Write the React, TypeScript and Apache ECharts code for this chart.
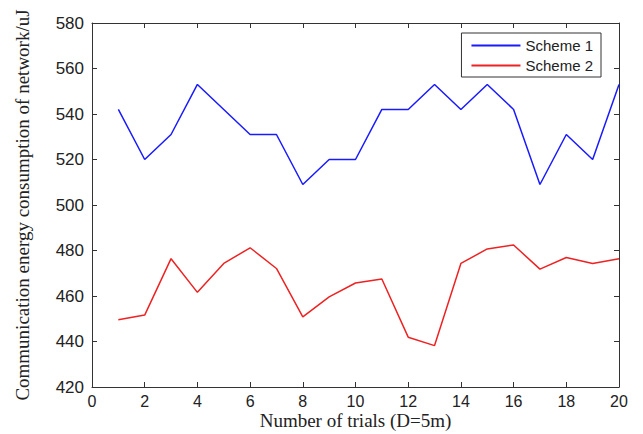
import React, { useEffect, useRef } from "react";
import * as echarts from "echarts";

const trials = [1, 2, 3, 4, 5, 6, 7, 8, 9, 10, 11, 12, 13, 14, 15, 16, 17, 18, 19, 20];
const scheme1 = [542, 520, 531, 553, 542, 531, 531, 509, 520, 520, 542, 542, 553, 542, 553, 542, 509, 531, 520, 553];
const scheme2 = [449.6, 451.6, 476.4, 461.6, 474.3, 481.2, 472.1, 450.8, 459.6, 465.7, 467.5, 441.9, 438.2, 474.3, 480.7, 482.4, 471.8, 476.9, 474.3, 476.4];
const seriesNames = ["Scheme 1", "Scheme 2"];

export default function App() {
  const ref = useRef<HTMLDivElement>(null);
  useEffect(() => {
    const chart = echarts.init(ref.current!, undefined, { renderer: "svg" });
    const axisText = { fontFamily: "Liberation Sans, Arial, sans-serif", fontSize: 17, color: "#222" };
    const lineStyle = { color: "#333", width: 1 };
    const baseX = {
      type: "value" as const,
      min: 0,
      max: 20,
      interval: 2,
      splitLine: { show: false },
      axisLine: { show: true, onZero: false, lineStyle },
      axisTick: { show: true, inside: true, length: 5, lineStyle },
    };
    const baseY = {
      type: "value" as const,
      min: 420,
      max: 580,
      interval: 20,
      splitLine: { show: false },
      axisLine: { show: true, onZero: false, lineStyle },
      axisTick: { show: true, inside: true, length: 5, lineStyle },
    };
    chart.setOption({
      animation: false,
      backgroundColor: "#fff",
      grid: { left: 92, right: 24, top: 23, bottom: 47, outerBoundsMode: "none", containLabel: false },
      legend: {
        data: seriesNames.map((n) => ({ name: n, icon: "rect" })),
        orient: "vertical",
        right: 42,
        top: 33,
        itemWidth: 49,
        itemHeight: 2,
        itemGap: 5,
        padding: [5, 8, 4, 10],
        borderColor: "#333",
        borderWidth: 1,
        textStyle: { fontFamily: "Liberation Sans, Arial, sans-serif", fontSize: 15, color: "#222" },
      },
      xAxis: [
        {
          ...baseX,
          position: "bottom",
          name: "Number of trials (D=5m)",
          nameLocation: "middle",
          nameGap: 24,
          nameMoveOverlap: false,
          nameTextStyle: { fontFamily: "Liberation Serif, Times New Roman, serif", fontSize: 19, color: "#222", lineHeight: 19 },
          axisLabel: { ...axisText, fontSize: 16, lineHeight: 16, margin: 6 },
        },
        { ...baseX, position: "top", axisLabel: { show: false } },
      ],
      yAxis: [
        {
          ...baseY,
          position: "left",
          name: "Communication energy consumption of network/uJ",
          nameLocation: "middle",
          nameGap: 60,
          nameMoveOverlap: false,
          nameTextStyle: { fontFamily: "Liberation Serif, Times New Roman, serif", fontSize: 19, color: "#222" },
          axisLabel: { ...axisText, margin: 8 },
        },
        { ...baseY, position: "right", axisLabel: { show: false } },
      ],
      series: [
        {
          name: seriesNames[0],
          type: "line",
          data: trials.map((t, i) => [t, scheme1[i]]),
          symbol: "none",
          color: "#1a1aff",
          lineStyle: { width: 1.5, color: "#1a1aff" },
        },
        {
          name: seriesNames[1],
          type: "line",
          data: trials.map((t, i) => [t, scheme2[i]]),
          symbol: "none",
          color: "#ee2222",
          lineStyle: { width: 1.5, color: "#ee2222" },
        },
      ],
    });
    return () => chart.dispose();
  }, []);
  return <div ref={ref} style={{ width: 643, height: 434, position: "fixed", left: 0, top: 0 }} />;
}
